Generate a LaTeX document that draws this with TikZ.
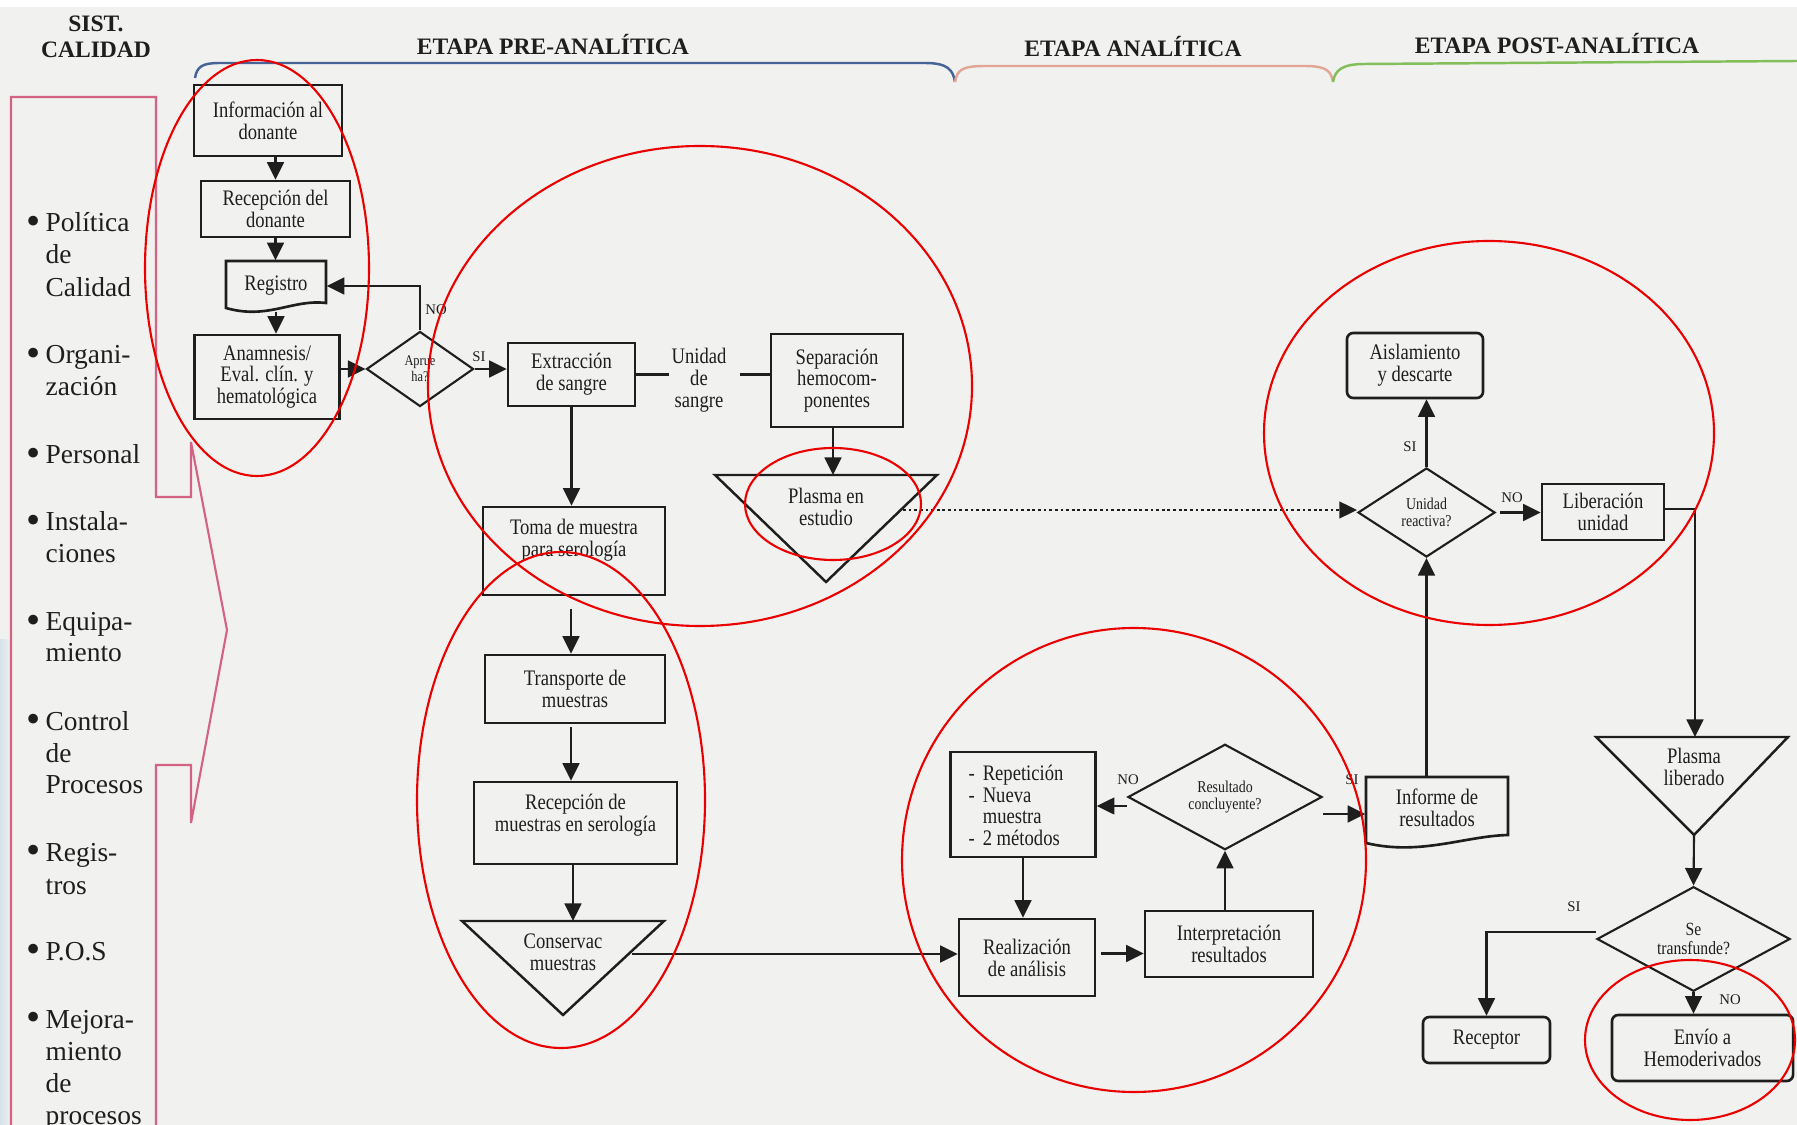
\documentclass[tikz,border=0pt]{standalone}
\usepackage{fontspec}
\setmainfont{Liberation Serif}
\newfontfamily\cond{Liberation Serif}[FakeStretch=0.84]
\usetikzlibrary{arrows.meta,shapes.geometric,calc}
\definecolor{bg}{RGB}{241,241,239}
\definecolor{pinkline}{RGB}{212,98,130}
\definecolor{braceblue}{RGB}{70,100,150}
\definecolor{bracepink}{RGB}{226,165,150}
\definecolor{bracegreen}{RGB}{130,190,90}
\definecolor{ink}{RGB}{30,30,30}
\definecolor{annotred}{RGB}{235,0,0}
\newcommand{\lbul}{\llap{{\fontsize{11.5}{9}\selectfont\raisebox{-0.7pt}{•}}\kern1.3pt}}
\tikzset{
 boxtxt/.style={font=\cond\fontsize{6.3}{6.2}\selectfont, align=center, text=ink, inner sep=0pt},
 box/.style={draw=ink, line width=0.75pt, boxtxt},
 rbox/.style={box, rounded corners=1.8pt},
 dia/.style={diamond, draw=ink, line width=0.6pt, inner sep=0pt, align=center, text=ink, font=\cond\fontsize{4.7}{4.9}\selectfont},
 tri/.style={draw=ink, line width=0.7pt},
 arr/.style={draw=ink, line width=0.6pt, -{Triangle[length=5pt,width=4.8pt]}},
 conn/.style={draw=ink, line width=0.6pt},
 lbl/.style={font=\fontsize{4.2}{4.2}\selectfont, text=ink, inner sep=0pt},
 listtxt/.style={font=\fontsize{7.8}{9.2}\selectfont, text=ink, anchor=base west, inner sep=0pt},
 ttl/.style={font=\bfseries\fontsize{6.7}{7.4}\selectfont, text=ink, align=center, inner sep=0pt},
 annot/.style={draw=annotred, line width=0.6pt},
 brace/.style={line width=0.7pt},
}
\begin{document}
\begin{tikzpicture}[x=0.01cm, y=-0.01cm]
\useasboundingbox (0,0) rectangle (1797,1125);
\fill[bg] (0,0) rectangle (1797,1125);
\fill[white] (0,0) rectangle (1797,7);
\shade[left color={rgb,255:red,214;green,226;blue,236}, right color=bg] (0,640) rectangle (12,1125);

% titles
\node[ttl] (sist) at (96,37) {SIST.\\CALIDAD};
\node[ttl] (pre) at (553,45) {ETAPA PRE-ANALÍTICA};
\node[ttl] (ana) at (1133,47) {ETAPA ANALÍTICA};
\node[ttl] (post) at (1557,44) {ETAPA POST-ANALÍTICA};

% braces
\draw[braceblue, brace] (195,78) .. controls (197,66) and (203,63) .. (220,63) -- (925,63) .. controls (948,63) and (953,70) .. (955,82);
\draw[bracepink, brace] (955,82) .. controls (957,70) and (962,66) .. (985,66) -- (1305,66) .. controls (1328,66) and (1331,72) .. (1333,82);
\draw[bracegreen, brace] (1333,82) .. controls (1335,70) and (1342,64) .. (1365,64) -- (1797,61);

% quality panel
\draw[pinkline, line width=0.6pt] (11,1125) -- (11,97) -- (156,97) -- (156,497) -- (191,497) -- (191,442) -- (227,630) -- (191,823) -- (191,765) -- (156,765) -- (156,1125);
\foreach \yy/\txt [count=\i] in {
 222/{\lbul Política}, 254/de, 287/Calidad,
 354/{\lbul Organi-}, 386/zación,
 454/{\lbul Personal},
 521/{\lbul Instala-}, 553/ciones,
 621/{\lbul Equipa-}, 652/miento,
 720/{\lbul Control}, 752/de, 784/Procesos,
 851/{\lbul Regis-}, 884/tros,
 950/{\lbul P.O.S},
 1018/{\lbul Mejora-}, 1050/miento, 1082/de, 1114/procesos}
 \node[listtxt] (l\i) at (45,\yy+10) {\txt};

% pre-analytic
\node[box, minimum width=1.48cm, minimum height=0.71cm] (info) at (268,120.5) {Información al\\donante};
\node[box, minimum width=1.49cm, minimum height=0.56cm] (recep) at (275.5,209) {Recepción del\\donante};
\node[boxtxt, minimum width=1cm, minimum height=0.5cm] (reg) at (276,286) {Registro};
\draw[tri, line width=0.75pt] (226,261) -- (326,261) -- (326,303) .. controls (292,299) and (268,320) .. (226,308) -- cycle;
\node[box, minimum width=1.45cm, minimum height=0.84cm] (anam) at (267,377) {Anamnesis/\\Eval. clín. y\\hematológica};
\node[dia, minimum width=1.07cm, minimum height=0.75cm, font=\cond\fontsize{4.2}{4.5}\selectfont] (apr) at (420,369) {Aprue\\ha?};
\node[box, minimum width=1.27cm, minimum height=0.63cm] (extr) at (571.5,374.5) {Extracción\\de sangre};
\node[boxtxt] (unid) at (699,380) {Unidad\\de\\sangre};
\node[box, minimum width=1.32cm, minimum height=0.93cm] (sep) at (837,380.5) {Separación\\hemocom-\\ponentes};
\draw[tri] (715,475) -- (937,475) -- (826,582) -- cycle;
\coordinate (pe) at (833,475);
\coordinate (pee) at (903,510);
\node[boxtxt] (pet) at (826,507) {Plasma en\\estudio};
\node[box, minimum width=1.82cm, minimum height=0.88cm] (toma) at (574,551) {};
\node[boxtxt] (tomat) at (574,540) {Toma de muestra\\para serología};
\node[box, minimum width=1.80cm, minimum height=0.68cm] (transp) at (575,689) {Transporte de\\muestras};
\node[box, minimum width=2.03cm, minimum height=0.82cm] (recmu) at (575.5,823) {};
\node[boxtxt] (recmut) at (575.5,815) {Recepción de\\muestras en serología};
\draw[tri] (462,921) -- (664,921) -- (563,1015) -- cycle;
\coordinate (cm) at (573,921);
\coordinate (cme) at (632,954);
\node[boxtxt] (cmt) at (563,952) {Conservac\\muestras};

% analytic
\node[box, minimum width=1.36cm, minimum height=0.77cm] (realiz) at (1027,957.5) {Realización\\de análisis};
\node[box, minimum width=1.68cm, minimum height=0.66cm] (interp) at (1229,944) {Interpretación\\resultados};
\node[dia, minimum width=1.94cm, minimum height=1.00cm] (result) at (1225,797) {Resultado\\concluyente?};
\node[box, minimum width=1.45cm, minimum height=1.05cm] (repet) at (1023,804.5) {};
\node[boxtxt, align=left, anchor=west] (repett) at (968,805.5) {\makebox[4pt][l]{-}Repetición\\\makebox[4pt][l]{-}Nueva\\\hspace*{4pt}muestra\\\makebox[4pt][l]{-}2 métodos};

% post-analytic
\node[boxtxt, minimum width=1.42cm, minimum height=0.62cm] (inf) at (1437,808) {Informe de\\resultados};
\draw[tri, line width=0.75pt] (1366,777) -- (1508,777) -- (1508,835) .. controls (1465,836) and (1420,856) .. (1366,843) -- cycle;
\node[dia, minimum width=1.37cm, minimum height=0.89cm] (ur) at (1426.5,512.5) {Unidad\\reactiva?};
\node[rbox, minimum width=1.36cm, minimum height=0.65cm] (aisl) at (1415,365.5) {Aislamiento\\y descarte};
\node[box, minimum width=1.22cm, minimum height=0.56cm] (liber) at (1603,512) {Liberación\\unidad};
\draw[tri] (1596,737) -- (1788,737) -- (1694,835) -- cycle;
\coordinate (pl) at (1695,737);
\coordinate (plb) at (1694,835);
\node[boxtxt] (plt) at (1694,767) {Plasma\\liberado};
\node[dia, minimum width=1.93cm, minimum height=0.96cm, font=\cond\fontsize{5.3}{5.4}\selectfont] (st) at (1693.5,939) {Se\\transfunde?};
\node[rbox, minimum width=1.27cm, minimum height=0.46cm] (rec) at (1486.5,1040) {Receptor};
\node[rbox, minimum width=1.81cm, minimum height=0.66cm] (env) at (1702.5,1048) {Envío a\\Hemoderivados};

% connectors
\draw[arr] (info.south -| recep.north) -- (recep.north);
\draw[arr] (recep.south) -- (recep.south |- reg.north);
\draw[arr] (reg.south) -- (reg.south |- anam.north);
\draw[arr] (anam.east |- apr.west) -- (apr.west);
\draw[arr] (apr.north) |- (reg.east);
\draw[arr] (apr.east) -- (apr.east -| extr.west);
\draw[conn] (extr.east) -- ($(extr.east -| unid.west)+(-2,0)$);
\draw[conn] ($(unid.east |- extr.east)+(13,0)$) -- (sep.west |- extr.east);
\draw[arr] (sep.south -| pe) -- (pe);
\draw[arr, dash pattern=on 0.8pt off 0.8pt, line width=0.5pt] (pee) -- (pee -| ur.west);
\draw[arr] (extr.south) -- (extr.south |- toma.north);
\draw[arr] ($(toma.south)+(-3,13)$) coordinate (t1) -- (t1 |- transp.north);
\draw[arr] ($(transp.south)+(-4,3)$) coordinate (t2) -- (t2 |- recmu.north);
\draw[arr] (recmu.south -| cm) -- (cm);
\draw[arr] (cme) -- (cme -| realiz.west);
\draw[arr] ($(realiz.east)+(5,-4)$) coordinate (t3) -- (t3 -| interp.west);
\draw[arr] (interp.north -| result.south) -- (result.south);
\draw[arr] ($(result.west)+(0,9)$) coordinate (t5) -- (t5 -| repet.east);
\draw[arr] (repet.south) -- (repet.south |- realiz.north);
\draw[arr] ($(result.east)+(0,17)$) coordinate (t6) -- (t6 -| inf.west);
\draw[arr] (inf.north -| ur.south) -- (ur.south);
\draw[arr] (ur.north) -- (ur.north |- aisl.south);
\draw[arr] ($(ur.east)+(4,0)$) -- (ur.east -| liber.west);
\draw[arr] ($(liber.east)+(0,-3)$) -| (pl);
\draw[arr] (plb) -- (st.north);
\draw[arr] ($(st.west)+(0,-7)$) -| (rec.north);
\draw[arr] (st.south) -- (st.south |- env.north);

% labels
\node[lbl] (no1) at (436,310) {NO};
\node[lbl] (si1) at (479,357) {SI};
\node[lbl] (no2) at (1128,780) {NO};
\node[lbl] (si2) at (1352,780) {SI};
\node[lbl] (si3) at (1410,447) {SI};
\node[lbl] (no3) at (1512,498) {NO};
\node[lbl] (si4) at (1574,907) {SI};
\node[lbl] (no4) at (1730,1000) {NO};

% red annotation ellipses
\draw[annot] (257,268) ellipse [x radius=112, y radius=208];
\draw[annot] (700,386) ellipse [x radius=272, y radius=240];
\draw[annot] (833,504) ellipse [x radius=88, y radius=56];
\draw[annot] (561,800) ellipse [x radius=144, y radius=248];
\draw[annot] (1134,860) ellipse [x radius=232, y radius=232];
\draw[annot] (1489,433) ellipse [x radius=225, y radius=192];
\draw[annot] (1690,1040) ellipse [x radius=105, y radius=80];
\end{tikzpicture}
\end{document}
